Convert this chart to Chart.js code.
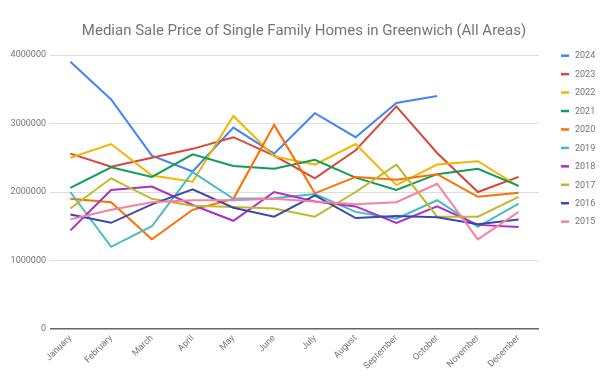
<!DOCTYPE html>
<html>
<head>
<meta charset="utf-8">
<script src="https://cdn.jsdelivr.net/npm/chart.js@4"></script>
<style>
html,body{margin:0;padding:0;background:#fff;}
#wrap{width:608px;height:381px;position:relative;}
</style>
</head>
<body>
<div id="wrap"><canvas id="c"></canvas></div>
<script>
const chartTitle = 'Median Sale Price of Single Family Homes in Greenwich (All Areas)';
const months = ["January","February","March","April","May","June","July","August","September","October","November","December"];
const yearLabels = ["2024","2023","2022","2021","2020","2019","2018","2017","2016","2015"];
const yTicks = [0, 1000000, 2000000, 3000000, 4000000];

const s2024 = [3900000,3350000,2530000,2300000,2940000,2560000,3150000,2800000,3300000,3400000,null,null];
const s2023 = [2560000,2370000,2500000,2630000,2800000,2530000,2200000,2610000,3250000,2570000,2000000,2220000];
const s2022 = [2500000,2700000,2240000,2150000,3110000,2520000,2400000,2700000,2100000,2400000,2450000,2080000];
const s2021 = [2060000,2360000,2220000,2550000,2380000,2340000,2470000,2210000,2030000,2260000,2340000,2090000];
const s2020 = [1900000,1850000,1310000,1740000,1900000,2980000,1980000,2220000,2180000,2260000,1930000,1990000];
const s2019 = [2000000,1200000,1500000,2290000,1900000,1910000,1970000,1710000,1610000,1880000,1490000,1830000];
const s2018 = [1440000,2030000,2080000,1810000,1580000,2000000,1860000,1790000,1550000,1790000,1520000,1490000];
const s2017 = [1760000,2200000,1900000,1800000,1780000,1760000,1640000,2000000,2400000,1640000,1640000,1930000];
const s2016 = [1670000,1550000,1820000,2040000,1770000,1640000,1950000,1620000,1650000,1630000,1530000,1600000];
const s2015 = [1600000,1740000,1850000,1880000,1880000,1900000,1860000,1820000,1850000,2120000,1310000,1710000];

const seriesValues = [s2024,s2023,s2022,s2021,s2020,s2019,s2018,s2017,s2016,s2015];
const colors = ["#4285f4","#db4437","#f4b400","#0f9d58","#ff6d00","#46bdc6","#ab30c4","#bfb92a","#3949ab","#f77fa6"];

const datasets = seriesValues.map((vals, i) => ({
  label: yearLabels[i],
  data: vals,
  borderColor: colors[i],
  backgroundColor: colors[i],
  borderWidth: 2,
  pointRadius: 0,
  pointHoverRadius: 0,
  tension: 0,
  fill: false,
  spanGaps: false,
  order: seriesValues.length - i
}));

const decorPlugin = {
  id: 'decor',
  afterDraw(chart) {
    const ctx = chart.ctx;
    ctx.save();
    // title centred on the canvas
    ctx.font = '15px Roboto, Arial, sans-serif';
    ctx.fillStyle = '#757575';
    ctx.textAlign = 'center';
    ctx.textBaseline = 'middle';
    ctx.fillText(chartTitle, chart.width / 2, 31);
    // legend on the right
    ctx.font = '9px Roboto, Arial, sans-serif';
    ctx.textAlign = 'left';
    chart.data.datasets.forEach((ds, i) => {
      const y = 55.7 + i * 18.44;
      ctx.strokeStyle = ds.borderColor;
      ctx.lineWidth = 2.5;
      ctx.beginPath();
      ctx.moveTo(561, y);
      ctx.lineTo(569, y);
      ctx.stroke();
      ctx.fillStyle = '#757575';
      ctx.fillText(ds.label, 575, y + 0.5);
    });
    ctx.restore();
  }
};

new Chart(document.getElementById('c'), {
  type: 'line',
  data: { labels: months, datasets: datasets },
  plugins: [decorPlugin],
  options: {
    responsive: true,
    maintainAspectRatio: false,
    animation: false,
    layout: { padding: { left: 0, right: 69, top: 55, bottom: 0 } },
    plugins: {
      legend: { display: false },
      tooltip: { enabled: false },
      title: { display: false }
    },
    scales: {
      x: {
        offset: true,
        grid: { display: false, drawTicks: false },
        border: { display: false },
        ticks: {
          minRotation: 45, maxRotation: 45, padding: 4,
          color: '#757575',
          font: { family: 'Roboto, Arial, sans-serif', size: 9 }
        },
        afterFit(scale) { scale.height = 52; }
      },
      y: {
        min: yTicks[0],
        max: yTicks[yTicks.length - 1],
        afterBuildTicks(scale) { scale.ticks = yTicks.map(v => ({ value: v })); },
        grid: {
          drawTicks: false,
          color: ctx => ctx.tick && ctx.tick.value === 0 ? '#666666' : '#dddddd',
          lineWidth: ctx => ctx.tick && ctx.tick.value === 0 ? 1.5 : 1
        },
        border: { display: false },
        ticks: {
          padding: 4,
          color: '#757575',
          font: { family: 'Roboto, Arial, sans-serif', size: 9 },
          callback: v => String(v)
        },
        afterFit(scale) { scale.width = 50; }
      }
    }
  }
});
</script>
</body>
</html>
